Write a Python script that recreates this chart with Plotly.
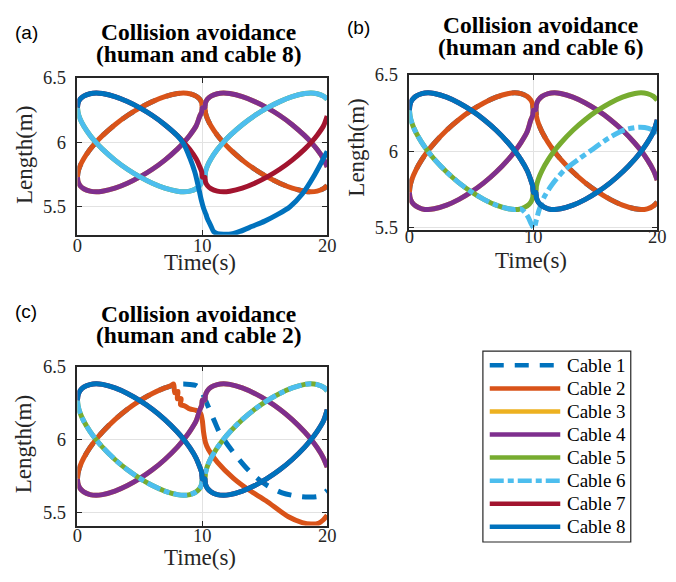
import plotly.graph_objects as go

# ---- time grids (s) for the two motion segments ----
T_FIRST = [0, 0.05, 0.2, 0.5, 1, 1.5, 2, 3, 4, 5, 6, 7, 8, 8.5, 9, 9.5, 9.8, 9.95, 10]
T_SECOND = [10.2, 10.25, 10.4, 10.7, 11.2, 11.7, 12.2, 13.2, 14.2, 15.2, 16.2, 17.2, 18.2, 18.7, 19.2, 19.7, 20]

# ---- cable length arcs (m) sampled on the segment grid ----
ARC_HIGH_FALL = [6.27, 6.305, 6.334, 6.359, 6.377, 6.383, 6.378, 6.354, 6.316, 6.267, 6.208, 6.137,
                 6.052, 6.002, 5.944, 5.873, 5.810, 5.771, 5.73]
ARC_LOW_FALL = [6.27, 6.230, 6.184, 6.127, 6.056, 5.998, 5.948, 5.863, 5.792, 5.733, 5.684, 5.646,
                5.622, 5.617, 5.622, 5.641, 5.666, 5.695, 5.73]
ARC_HIGH_RISE = [5.73, 5.771, 5.816, 5.873, 5.944, 6.002, 6.052, 6.137, 6.208, 6.267, 6.316, 6.354,
                 6.378, 6.383, 6.377, 6.359, 6.334, 6.305, 6.27]
ARC_LOW_RISE = [5.73, 5.695, 5.666, 5.641, 5.622, 5.617, 5.622, 5.646, 5.684, 5.733, 5.792, 5.863,
                5.948, 5.998, 6.056, 6.127, 6.205, 6.235, 6.27]

# which arc each cable follows in the first and second segment
CABLE_ARCS = {
    1: (ARC_HIGH_RISE, ARC_LOW_FALL),
    2: (ARC_HIGH_RISE, ARC_LOW_FALL),
    3: (ARC_LOW_RISE, ARC_HIGH_FALL),
    4: (ARC_LOW_RISE, ARC_HIGH_FALL),
    5: (ARC_LOW_FALL, ARC_HIGH_RISE),
    6: (ARC_LOW_FALL, ARC_HIGH_RISE),
    7: (ARC_HIGH_FALL, ARC_LOW_RISE),
    8: (ARC_HIGH_FALL, ARC_LOW_RISE),
}

# ---- avoidance manoeuvres: (nominal kept up to t, time, length) ----
A_CABLE8_KEEP = 8
A_CABLE8_T = [8.5, 9.0, 9.4, 9.7, 9.9, 10.1, 10.3, 10.4, 10.5, 10.7, 10.9, 11.2, 11.7, 12.3, 13, 14,
              15, 16, 17, 18, 19, 20]
A_CABLE8_L = [5.99, 5.88, 5.77, 5.65, 5.56, 5.49, 5.44, 5.41, 5.39, 5.35, 5.31, 5.293, 5.288, 5.29,
              5.31, 5.35, 5.39, 5.44, 5.50, 5.60, 5.75, 5.93]

B_CABLE6_KEEP = 9
B_CABLE6_T = [9.3, 9.6, 9.85, 10.05, 10.25, 10.45, 10.85, 11.5, 12.5, 13.7, 14.8, 16.1, 17.4, 18.5,
              19.3, 20]
B_CABLE6_L = [5.60, 5.565, 5.52, 5.495, 5.55, 5.61, 5.695, 5.78, 5.875, 5.95, 6.013, 6.087, 6.14,
              6.157, 6.15, 6.12]

C_CABLE2_KEEP = 7
C_CABLE2_T = [7.5, 7.7, 7.8, 8.05, 8.0, 8.3, 8.25, 8.6, 9.0, 9.5, 9.85, 10.0, 10.1, 10.25, 10.5,
              11.2, 12.5, 13.8, 15.1, 16.9, 18.0, 18.7, 19.3, 19.7, 20]
C_CABLE2_L = [6.37, 6.38, 6.32, 6.33, 6.28, 6.28, 6.24, 6.23, 6.21, 6.2, 6.18, 6.13, 6.05, 5.98,
              5.93, 5.845, 5.734, 5.65, 5.58, 5.47, 5.43, 5.42, 5.425, 5.45, 5.48]

C_CABLE1_KEEP = 8
C_CABLE1_T = [8.5, 9.0, 9.5, 9.8, 10.0, 10.3, 10.6, 11.0, 11.4, 12.5, 13.8, 15.1, 16.4, 17.7, 18.5,
              19.3, 20]
C_CABLE1_L = [6.38, 6.378, 6.37, 6.35, 6.32, 6.26, 6.2, 6.12, 6.044, 5.91, 5.78, 5.69, 5.634, 5.61,
              5.605, 5.61, 5.65]

CABLE_NAMES = ["Cable 1", "Cable 2", "Cable 3", "Cable 4", "Cable 5", "Cable 6", "Cable 7", "Cable 8"]
CABLE_COLORS = ["#0072BD", "#D95319", "#EDB120", "#7E2F8E", "#77AC30", "#4DBEEE", "#A2142F", "#0072BD"]
DASH_1 = "14px,11px"
DASH_6 = "14px,4px,6px,4px"

X_TICKS = [0, 10, 20]
Y_TICKS = [5.5, 6, 6.5]
Y_TICK_TEXT = ["5.5", "6", "6.5"]

W, H = 676, 582
SERIF = "Liberation Serif"
SANS = "Liberation Sans"
INK = "#262626"

# per panel: key, label, second title line, plot box (left, top, right, bottom) px, y range,
# text placement (label xy, title line centres, y-title xy, x-title y, tick standoff), deviations
PANELS = [
    dict(key="a", label="(a)", title2="(human and cable 8)", box=(74, 70, 329, 232),
         yrange=[5.284, 6.5], label_xy=(21.5, 23.5), title_y=(22.5, 45), title_x=198,
         ytitle_xy=(20, 150), xtitle_y=260.5, tick_standoff=-7,
         devs={8: (A_CABLE8_KEEP, A_CABLE8_T, A_CABLE8_L)}),
    dict(key="b", label="(b)", title2="(human and cable 6)", box=(413, 67, 666, 227),
         yrange=[5.483, 6.5], label_xy=(360.5, 18.5), title_y=(15.5, 38.5), title_x=547,
         ytitle_xy=(359.5, 142), xtitle_y=258, tick_standoff=-11,
         devs={6: (B_CABLE6_KEEP, B_CABLE6_T, B_CABLE6_L)}),
    dict(key="c", label="(c)", title2="(human and cable 2)", box=(74, 368, 329, 532),
         yrange=[5.41, 6.5], label_xy=(21.5, 311.5), title_y=(314, 335.5), title_x=198,
         ytitle_xy=(19, 448.5), xtitle_y=564.5, tick_standoff=-7,
         devs={1: (C_CABLE1_KEEP, C_CABLE1_T, C_CABLE1_L), 2: (C_CABLE2_KEEP, C_CABLE2_T, C_CABLE2_L)}),
]


def nominal(cable):
    first, second = CABLE_ARCS[cable]
    t = T_FIRST + T_SECOND
    v = first + second[:len(T_SECOND)]
    return t, v


def cable_series(cable, deviations):
    t, v = nominal(cable)
    if cable in deviations:
        keep, dt, dv = deviations[cable]
        pairs = [(a, b) for a, b in zip(t, v) if a <= keep]
        t = [p[0] for p in pairs] + dt
        v = [p[1] for p in pairs] + dv
    return t, v


def fx(p):
    return p / W


def fy(p):
    return 1 - p / H


def text(s, x, y, size, family=SERIF, color="#000000", anchor="center", angle=0):
    return dict(text=s, x=fx(x), y=fy(y), xref="paper", yref="paper", xanchor=anchor,
                yanchor="middle", showarrow=False, textangle=angle,
                font=dict(family=family, size=size, color=color))


fig = go.Figure()
layout = dict(
    width=W, height=H, margin=dict(l=0, r=0, t=0, b=0),
    paper_bgcolor="white", plot_bgcolor="white", showlegend=False,
    font=dict(family=SERIF, color=INK),
)
annotations = []
shapes = []

for idx, p in enumerate(PANELS):
    n = "" if idx == 0 else str(idx + 1)
    left, top, right, bottom = p["box"]
    axis_common = dict(
        showline=True, linecolor=INK, linewidth=1.5, mirror="ticks",
        ticks="inside", ticklen=5, tickwidth=1, tickcolor=INK,
        showgrid=True, gridcolor="#e2e2e2", gridwidth=1, zeroline=False,
        tickfont=dict(family=SERIF, size=18.5, color=INK),
    )
    layout["xaxis" + n] = dict(axis_common, domain=[fx(left), fx(right)], range=[0, 20],
                               tickvals=X_TICKS, ticktext=[str(v) for v in X_TICKS],
                               anchor="y" + n, ticklabelstandoff=p["tick_standoff"])
    layout["yaxis" + n] = dict(axis_common, domain=[fy(bottom), fy(top)], range=p["yrange"],
                               tickvals=Y_TICKS, ticktext=Y_TICK_TEXT,
                               anchor="x" + n, ticklabelstandoff=6)

    for c in range(1, 9):
        t, v = cable_series(c, p["devs"])
        dash = "solid"
        if c == 1:
            dash = DASH_1
        elif c == 6 and p["key"] != "a":
            dash = DASH_6
        fig.add_trace(go.Scatter(
            x=t, y=v, mode="lines", name=CABLE_NAMES[c - 1],
            line=dict(color=CABLE_COLORS[c - 1], width=5, dash=dash, shape="spline", smoothing=0.8),
            xaxis="x" + n, yaxis="y" + n, hoverinfo="skip",
        ))

    annotations += [
        text(p["label"], p["label_xy"][0], p["label_xy"][1], 19, family=SANS),
        text("<b>Collision avoidance</b>", p["title_x"], p["title_y"][0], 23.5),
        text("<b>" + p["title2"] + "</b>", p["title_x"], p["title_y"][1], 23.5),
        text("Length(m)", p["ytitle_xy"][0], p["ytitle_xy"][1], 23, color=INK, angle=-90),
        text("Time(s)", (left + right) / 2 - 2, p["xtitle_y"], 23, color=INK),
    ]

# ---- legend box ----
LEG_LEFT, LEG_TOP, LEG_RIGHT, LEG_BOTTOM = 488, 352, 639, 549
ROW0, ROW_STEP = 366.7, 23.8
shapes.append(dict(type="rect", xref="paper", yref="paper",
                   x0=fx(LEG_LEFT), x1=fx(LEG_RIGHT), y0=fy(LEG_BOTTOM), y1=fy(LEG_TOP),
                   line=dict(color=INK, width=1.2), fillcolor="white", layer="below"))
for i, name in enumerate(CABLE_NAMES):
    yy = ROW0 + i * ROW_STEP
    dash = DASH_1 if i == 0 else (DASH_6 if i == 5 else "solid")
    shapes.append(dict(type="line", xref="paper", yref="paper",
                       x0=fx(495), x1=fx(567), y0=fy(yy), y1=fy(yy),
                       line=dict(color=CABLE_COLORS[i], width=4.5, dash=dash)))
    annotations.append(text(name, 572, yy, 19, anchor="left"))

layout["annotations"] = annotations
layout["shapes"] = shapes
fig.update_layout(**layout)
fig.write_html("out.html")
